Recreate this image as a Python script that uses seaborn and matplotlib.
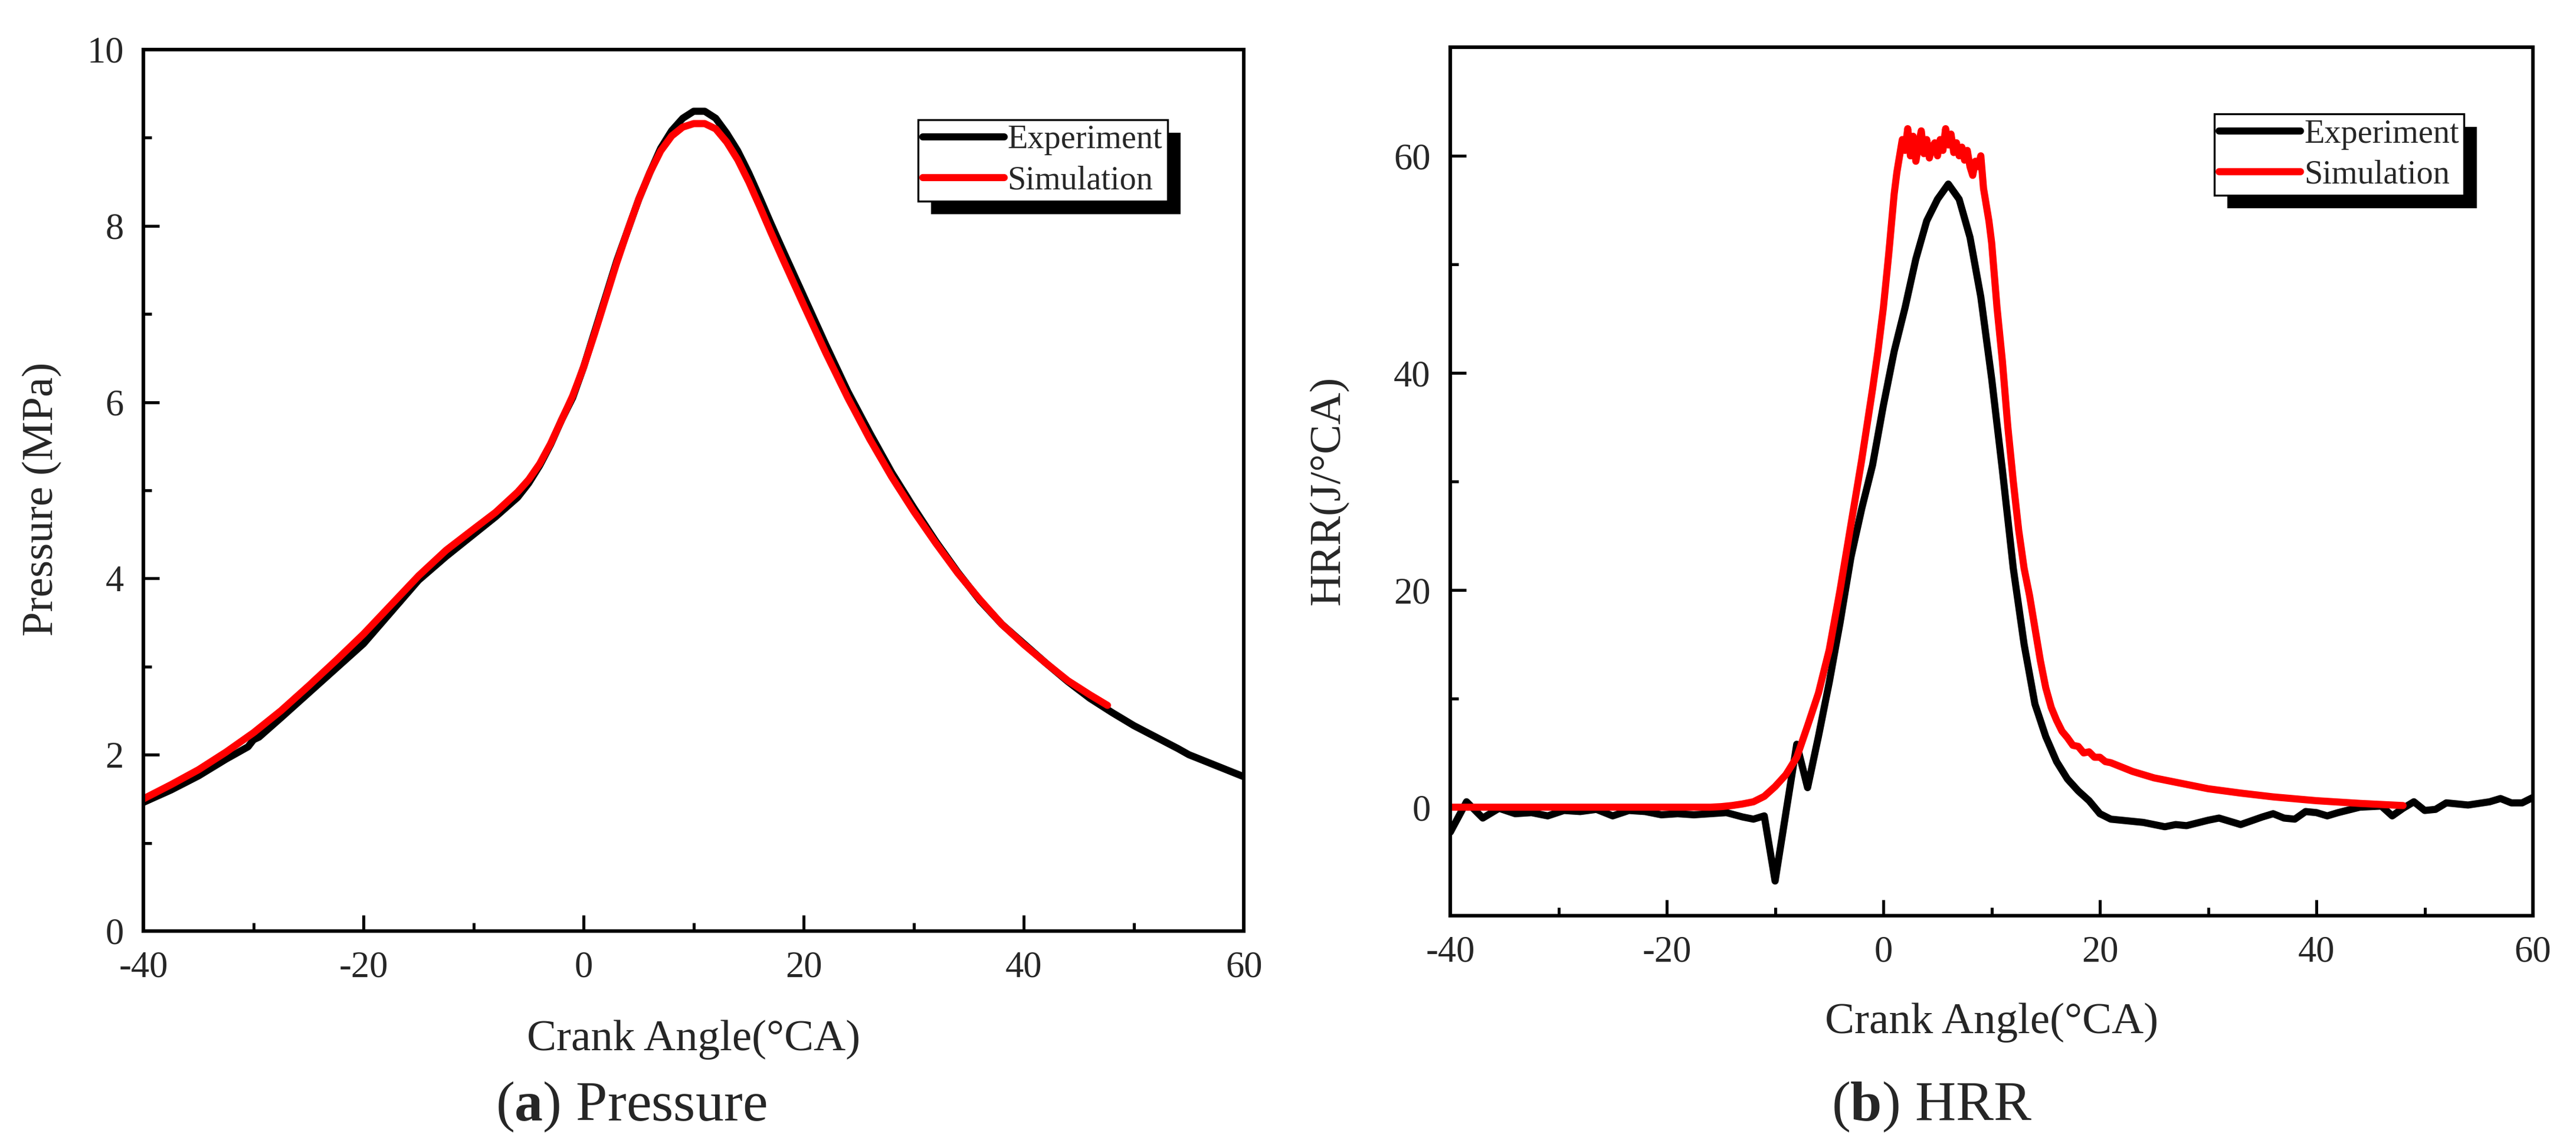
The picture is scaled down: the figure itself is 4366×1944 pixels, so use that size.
import numpy as np
import pandas as pd
import matplotlib
matplotlib.use('Agg')
import matplotlib.pyplot as plt
from matplotlib.ticker import MultipleLocator
from matplotlib.patches import Rectangle
import seaborn as sns

# ---- dados ----
# (a) Pressure, MPa
p_exp_x = [-40, -37.5, -35, -32.5, -30.5, -30, -29.5, -27.5, -25, -22.5, -20, -17.5, -15, -12.5,
           -10, -8, -6, -5, -4, -3, -2, -1, 0, 1, 2, 3, 4, 5, 6, 7, 8, 9, 10, 11, 12, 13,
           14, 15, 16, 17, 18, 20, 22, 24, 26, 28, 30, 32, 34, 36, 38, 40, 42, 44, 46, 48,
           50, 52, 54, 55, 56, 58, 60]
p_exp_y = [1.46, 1.60, 1.76, 1.95, 2.09, 2.17, 2.20, 2.42, 2.70, 2.98, 3.26, 3.62, 3.98, 4.25,
           4.50, 4.70, 4.92, 5.08, 5.28, 5.52, 5.80, 6.05, 6.40, 6.80, 7.20, 7.60, 7.95, 8.30,
           8.60, 8.88, 9.08, 9.22, 9.30, 9.30, 9.22, 9.05, 8.85, 8.60, 8.32, 8.03, 7.75, 7.20,
           6.65, 6.12, 5.65, 5.20, 4.80, 4.42, 4.07, 3.75, 3.48, 3.26, 3.04, 2.83, 2.64, 2.48,
           2.33, 2.20, 2.07, 2.00, 1.95, 1.85, 1.75]
p_sim_x = [-40, -37.5, -35, -32.5, -30, -27.5, -25, -22.5, -20, -17.5, -15, -12.5, -10, -8, -6,
           -5, -4, -3, -2, -1, 0, 1, 2, 3, 4, 5, 6, 7, 8, 9, 10, 11, 12, 13, 14, 15, 16, 17,
           18, 20, 22, 24, 26, 28, 30, 32, 34, 36, 38, 40, 42, 44, 46, 47.6]
p_sim_y = [1.50, 1.66, 1.83, 2.03, 2.25, 2.50, 2.78, 3.07, 3.37, 3.70, 4.03, 4.32, 4.56, 4.75,
           4.98, 5.12, 5.30, 5.53, 5.80, 6.07, 6.40, 6.78, 7.18, 7.58, 7.95, 8.30, 8.60, 8.85,
           9.02, 9.12, 9.16, 9.16, 9.10, 8.95, 8.75, 8.50, 8.22, 7.93, 7.65, 7.10, 6.56, 6.05,
           5.58, 5.15, 4.76, 4.40, 4.06, 3.76, 3.48, 3.25, 3.04, 2.84, 2.68, 2.56]

# (b) HRR, J/°CA
h_exp_x = [-40, -38.5, -37, -35.5, -34, -32.5, -31, -29.5, -28, -26.5, -25, -23.5, -22, -20.5,
           -19, -17.5, -16, -14.5, -13, -12, -11, -10, -9, -8, -7, -6, -5, -4, -3, -2, -1, 0,
           1, 2, 3, 4, 5, 6, 7, 8, 9, 10, 11, 12, 13, 14, 15, 16, 17, 18, 19, 20, 21, 22, 24,
           26, 27, 28, 30, 31, 33, 35, 36, 37, 38, 39, 40, 41, 42, 44, 46, 47, 48, 49, 50, 51,
           52, 54, 56, 57, 58, 59, 60]
h_exp_y = [-2.3, 0.5, -1.0, -0.1, -0.6, -0.5, -0.8, -0.3, -0.4, -0.2, -0.8, -0.3, -0.4, -0.7,
           -0.6, -0.7, -0.6, -0.5, -0.9, -1.1, -0.8, -6.8, -0.5, 5.8, 1.8, 6.5, 11.5, 17.0, 23.0,
           27.5, 31.5, 37.0, 42.0, 46.0, 50.5, 54.0, 56.0, 57.4, 56.0, 52.5, 47.0, 39.5, 31.0,
           22.0, 15.0, 9.5, 6.5, 4.2, 2.6, 1.5, 0.6, -0.6, -1.1, -1.2, -1.4, -1.8, -1.6, -1.7,
           -1.2, -1.0, -1.6, -0.9, -0.6, -1.0, -1.1, -0.4, -0.5, -0.8, -0.5, 0.0, 0.1, -0.8,
           -0.1, 0.5, -0.3, -0.2, 0.4, 0.2, 0.5, 0.8, 0.4, 0.4, 0.9]
h_sim_x = [-40, -20, -16, -15, -14, -13, -12, -11, -10, -9, -8, -7, -6, -5, -4, -3, -2, -1,
           -0.5, 0, 0.5, 1, 1.25, 1.5, 1.75, 2, 2.25, 2.5, 2.75, 3, 3.25, 3.5, 3.75, 4, 4.25,
           4.5, 4.75, 5, 5.25, 5.5, 5.75, 6, 6.25, 6.5, 6.75, 7, 7.25, 7.5, 7.75, 8, 8.25,
           8.5, 8.75, 9, 9.25, 9.5, 9.75, 10, 10.5, 11, 11.5, 12, 12.5, 13, 13.5, 14, 14.5,
           15, 15.5, 16, 16.5, 17, 17.5, 18, 18.5, 19, 19.5, 20, 20.5, 21, 22, 23, 24, 25, 27,
           30, 33, 36, 40, 44, 48]
h_sim_y = [0.0, 0.0, 0.0, 0.05, 0.15, 0.3, 0.5, 1.0, 1.9, 3.0, 4.6, 7.5, 10.5, 14.5, 20.0,
           26.0, 32.0, 38.5, 42.0, 46.0, 51.0, 56.5, 58.5, 60.0, 61.5, 60.5, 62.5, 60.0, 61.8,
           59.5, 61.0, 62.3, 60.2, 61.5, 59.8, 60.8, 61.2, 60.0, 61.5, 60.5, 62.5, 61.0, 62.0,
           60.3, 61.2, 60.0, 60.8, 59.6, 60.5, 59.0, 58.2, 59.5, 59.0, 60.0, 57.0, 55.5, 54.0,
           52.0, 46.0, 41.0, 35.0, 30.0, 25.5, 22.0, 19.5, 16.5, 13.5, 11.0, 9.2, 8.0, 7.0, 6.4,
           5.7, 5.6, 5.0, 5.1, 4.6, 4.6, 4.2, 4.1, 3.7, 3.3, 3.0, 2.7, 2.3, 1.7, 1.3, 0.95, 0.6,
           0.35, 0.15]

sns.set_style('ticks')
plt.rcParams['font.family'] = ['Liberation Serif', 'DejaVu Serif']
plt.rcParams['mathtext.fontset'] = 'custom'
plt.rcParams['mathtext.rm'] = 'Liberation Serif'
plt.rcParams['mathtext.bf'] = 'Liberation Serif:bold'
plt.rcParams['axes.unicode_minus'] = False

fig = plt.figure(figsize=(4366 / 300, 1944 / 300), dpi=300)
ax1 = fig.add_axes([0.0557, 0.1883, 0.4272, 0.7685])
ax2 = fig.add_axes([0.5630, 0.2016, 0.4203, 0.7572])

lw = 2.9
sns.lineplot(x=p_exp_x, y=p_exp_y, color='black', lw=lw, label='Experiment', ax=ax1)
sns.lineplot(x=p_sim_x, y=p_sim_y, color='#ff0000', lw=lw, label='Simulation', ax=ax1)
sns.lineplot(x=h_exp_x, y=h_exp_y, color='black', lw=lw, label='Experiment', ax=ax2)
sns.lineplot(x=h_sim_x, y=h_sim_y, color='#ff0000', lw=lw, label='Simulation', ax=ax2)

ax1.set_xlim(-40, 60)
ax1.set_ylim(0, 10)
ax1.yaxis.set_major_locator(MultipleLocator(2))
ax1.yaxis.set_minor_locator(MultipleLocator(1))
ax1.set_ylabel('Pressure (MPa)', fontsize=18)
ax1.yaxis.set_label_coords(-0.074, 0.49)
ax1.set_xlabel('Crank Angle(°CA)', fontsize=18)
ax1.xaxis.set_label_coords(0.5, -0.101)

ax2.set_xlim(-40, 60)
ax2.set_ylim(-10, 70)
ax2.yaxis.set_major_locator(MultipleLocator(20))
ax2.yaxis.set_minor_locator(MultipleLocator(10))
ax2.set_ylabel('HRR(J/°CA)', fontsize=18)
ax2.yaxis.set_label_coords(-0.094, 0.49)
ax2.set_xlabel('Crank Angle(°CA)', fontsize=18)
ax2.xaxis.set_label_coords(0.5, -0.1)

legs = []
for ax, anchor in [(ax1, (0.7037, 0.9203)), (ax2, (0.7057, 0.9232))]:
    ax.xaxis.set_major_locator(MultipleLocator(20))
    ax.xaxis.set_minor_locator(MultipleLocator(10))
    ax.tick_params(which='both', direction='in', width=1.2, top=False, right=False,
                   labelsize=15, pad=8, color='black')
    ax.tick_params(which='major', length=6.5)
    ax.tick_params(which='minor', length=3.4)
    for s in ax.spines.values():
        s.set_linewidth(1.45)
        s.set_color('black')
    leg = ax.legend(loc='upper left', bbox_to_anchor=anchor, borderaxespad=0, fontsize=13.5,
                    handlelength=2.45, handletextpad=0.1, borderpad=0.15, labelspacing=0.3,
                    fancybox=False, framealpha=1, edgecolor='black')
    leg.get_frame().set_linewidth(0.8)
    for h in leg.get_lines():
        h.set_solid_capstyle('round')
    legs.append((ax, leg))

fig.text(0.245, 0.035, r'($\mathbf{a}$) Pressure', ha='center', va='center', fontsize=23)
fig.text(0.75, 0.035, r'($\mathbf{b}$) HRR', ha='center', va='center', fontsize=23)

# sombra preta das legendas
fig.canvas.draw()
off = 22
for ax, leg in legs:
    bb = leg.get_frame().get_window_extent()
    inv = ax.transAxes.inverted()
    x0, y0 = inv.transform((bb.x0 + off, bb.y0 - off))
    x1, y1 = inv.transform((bb.x1 + off, bb.y1 - off))
    ax.add_patch(Rectangle((x0, y0), x1 - x0, y1 - y0, transform=ax.transAxes,
                           facecolor='black', edgecolor='none', zorder=4.5, clip_on=False))

plt.savefig('out.png', dpi=300)
